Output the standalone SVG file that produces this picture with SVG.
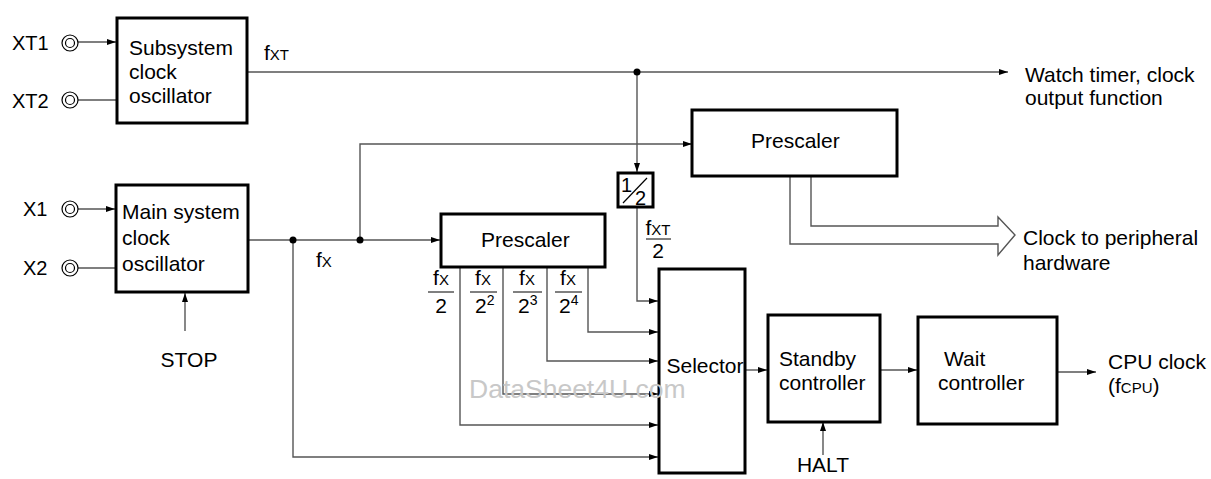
<svg xmlns="http://www.w3.org/2000/svg" width="1211" height="479" viewBox="0 0 1211 479">
<defs>
<marker id="ah" markerUnits="userSpaceOnUse" markerWidth="10" markerHeight="8" refX="9" refY="4" orient="auto">
<path d="M0,1 L9,4 L0,7 Z" fill="#000"/>
</marker>
</defs>
<style>
text{font-family:"Liberation Sans",Arial,sans-serif;font-size:21px;fill:#000}
.sm{font-size:15px}
.sup{font-size:14px}
.box{fill:#fff;stroke:#000;stroke-width:3}
.ln{fill:none;stroke:#555;stroke-width:1.4}
.ar{fill:none;stroke:#555;stroke-width:1.4;marker-end:url(#ah)}
.pin{fill:#fff;stroke:#000;stroke-width:1.2}
.wm{font-size:26.5px;fill:#c8c8c8}
</style>
<rect width="1211" height="479" fill="#fff"/>

<g id="connectors">
<line class="ar" x1="78" y1="42" x2="116" y2="42"/>
<line class="ln" x1="78" y1="100" x2="116" y2="100"/>
<line class="ar" x1="78" y1="209" x2="115" y2="209"/>
<line class="ln" x1="78" y1="268" x2="115" y2="268"/>
<line class="ar" x1="248" y1="72" x2="1008" y2="72"/>
<line class="ar" x1="637" y1="72" x2="637" y2="172"/>
<polyline class="ar" points="637,207 637,301 658,301"/>
<line class="ar" x1="249" y1="240" x2="440" y2="240"/>
<polyline class="ar" points="360,240 360,144 692,144"/>
<polyline class="ar" points="293,240 293,457 658,457"/>
<polyline class="ar" points="588,267 588,332 658,332"/>
<polyline class="ar" points="547,267 547,361 658,361"/>
<polyline class="ar" points="503,267 503,394 658,394"/>
<polyline class="ar" points="460,267 460,425 658,425"/>
<line class="ar" x1="745" y1="370" x2="767" y2="370"/>
<line class="ar" x1="880" y1="370" x2="917" y2="370"/>
<line class="ar" x1="1057" y1="372" x2="1096" y2="372"/>
<line class="ar" x1="185" y1="331" x2="185" y2="293"/>
<line class="ar" x1="823" y1="455" x2="823" y2="422"/>
<path class="ln" d="M790,176 V244 H998 V255 L1015,235 L998,217 V226 H811 V176"/>
<circle cx="637" cy="72" r="3.5" fill="#000"/>
<circle cx="293" cy="240" r="3.5" fill="#000"/>
<circle cx="360" cy="240" r="3.5" fill="#000"/>
</g>

<g id="pins">
<circle class="pin" cx="70" cy="43" r="8"/><circle class="pin" cx="70" cy="43" r="4.5"/>
<circle class="pin" cx="70" cy="100" r="8"/><circle class="pin" cx="70" cy="100" r="4.5"/>
<circle class="pin" cx="70" cy="209" r="8"/><circle class="pin" cx="70" cy="209" r="4.5"/>
<circle class="pin" cx="70" cy="268" r="8"/><circle class="pin" cx="70" cy="268" r="4.5"/>
<text x="12" y="50" style="font-size:20px">XT1</text>
<text x="12" y="108" style="font-size:20px">XT2</text>
<text x="23" y="216" style="font-size:20px">X1</text>
<text x="23" y="275" style="font-size:20px">X2</text>
</g>

<g id="subsystem">
<rect class="box" x="117" y="18" width="130" height="105"/>
<text x="129" y="55">Subsystem</text>
<text x="129" y="79">clock</text>
<text x="129" y="103">oscillator</text>
</g>

<g id="mainosc">
<rect class="box" x="116" y="185" width="132" height="107"/>
<text x="122" y="219">Main system</text>
<text x="122" y="245">clock</text>
<text x="122" y="271">oscillator</text>
</g>

<g id="prescaler1">
<rect class="box" x="692" y="110" width="205" height="66"/>
<text x="751" y="148">Prescaler</text>
</g>

<g id="prescaler2">
<rect class="box" x="441" y="214" width="164" height="53"/>
<text x="481" y="247">Prescaler</text>
</g>

<g id="div2">
<rect class="box" x="618" y="173" width="35" height="34"/>
<text x="621" y="192" style="font-size:20px">1</text>
<line x1="623" y1="203" x2="647" y2="178" stroke="#000" stroke-width="1.2"/>
<text x="635" y="205" style="font-size:20px">2</text>
</g>

<g id="selector">
<rect class="box" x="659" y="269" width="86" height="204"/>
<text x="705" y="373" text-anchor="middle">Selector</text>
</g>

<g id="standby">
<rect class="box" x="768" y="315" width="112" height="107"/>
<text x="779" y="366">Standby</text>
<text x="779" y="390">controller</text>
</g>

<g id="wait">
<rect class="box" x="918" y="317" width="139" height="107"/>
<text x="944" y="366">Wait</text>
<text x="938" y="390">controller</text>
</g>

<g id="labels">
<text x="264" y="60">f<tspan class="sm">XT</tspan></text>
<text x="316" y="267">f<tspan class="sm">X</tspan></text>
<text x="658" y="235" text-anchor="middle">f<tspan class="sm">XT</tspan></text>
<line x1="646" y1="239" x2="671" y2="239" stroke="#000" stroke-width="1"/>
<text x="658" y="258" text-anchor="middle">2</text>

<text x="441" y="285" text-anchor="middle">f<tspan class="sm">X</tspan></text>
<line x1="428" y1="292" x2="454" y2="292" stroke="#000" stroke-width="1"/>
<text x="441" y="313" text-anchor="middle">2</text>

<text x="483" y="285" text-anchor="middle">f<tspan class="sm">X</tspan></text>
<line x1="470" y1="292" x2="497" y2="292" stroke="#000" stroke-width="1"/>
<text x="475" y="313">2<tspan class="sup" dy="-8">2</tspan></text>

<text x="527" y="285" text-anchor="middle">f<tspan class="sm">X</tspan></text>
<line x1="513" y1="292" x2="542" y2="292" stroke="#000" stroke-width="1"/>
<text x="518" y="313">2<tspan class="sup" dy="-8">3</tspan></text>

<text x="568" y="285" text-anchor="middle">f<tspan class="sm">X</tspan></text>
<line x1="555" y1="292" x2="582" y2="292" stroke="#000" stroke-width="1"/>
<text x="559" y="313">2<tspan class="sup" dy="-8">4</tspan></text>

<text x="1025" y="82">Watch timer, clock</text>
<text x="1025" y="105">output function</text>
<text x="1023" y="245">Clock to peripheral</text>
<text x="1023" y="270">hardware</text>
<text x="1108" y="369">CPU clock</text>
<text x="1108" y="393">(f<tspan class="sm">CPU</tspan>)</text>
<text x="189" y="367" text-anchor="middle">STOP</text>
<text x="823" y="472" text-anchor="middle">HALT</text>
<text class="wm" x="469" y="398">DataSheet4U.com</text>
</g>
</svg>
